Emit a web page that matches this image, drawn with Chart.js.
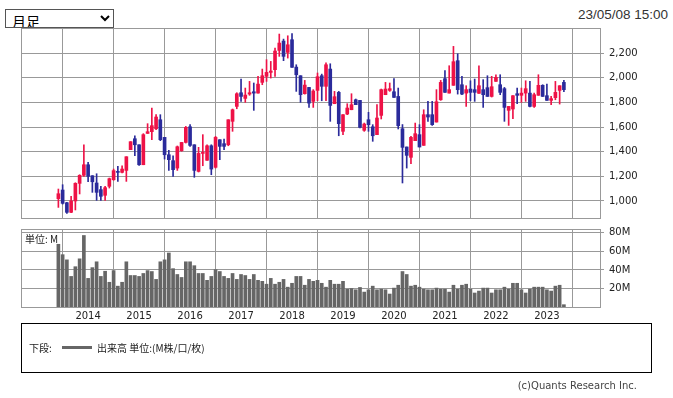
<!DOCTYPE html>
<html>
<head>
<meta charset="utf-8">
<script src="https://cdn.jsdelivr.net/npm/chart.js@4.4.1/dist/chart.umd.min.js"></script>
<style>
  body { margin: 0; width: 673px; height: 398px; background: #fff; position: relative; overflow: hidden; }
  canvas { position: absolute; left: 0; top: 0; }
  #span { position: absolute; left: 5px; top: 9px; width: 109px; height: 19px; font: 14px "Noto Sans CJK JP", sans-serif; border: 1px solid #555; padding: 0 0 0 2px; background: #fff; color: #000; }
  #stamp { position: absolute; right: 5px; top: 7px; font: 13.5px "Liberation Sans", Arial, sans-serif; color: #333; }
  #unit { position: absolute; left: 25px; top: 231px; font: 10px "Noto Sans CJK JP", sans-serif; color: #222; }
  #legend { position: absolute; left: 21px; top: 323px; width: 631px; height: 50px; border: 1px solid #000; box-sizing: border-box; font: 10px "Noto Sans CJK JP", sans-serif; color: #222; }
  #legend .t1 { position: absolute; left: 7px; top: 16px; }
  #legend .ln { position: absolute; left: 40px; top: 22px; width: 30px; height: 3px; background: #666; }
  #legend .t2 { position: absolute; left: 75px; top: 16px; }
  #copy { position: absolute; right: 36px; top: 380px; font: 10px "DejaVu Sans", sans-serif; color: #444; }
</style>
</head>
<body>
<select id="span"><option>月足</option><option>週足</option><option>日足</option></select>
<div id="stamp">23/05/08 15:00</div>
<canvas id="price" width="673" height="398"></canvas>
<canvas id="volume" width="673" height="398"></canvas>
<div id="unit">単位: M</div>
<div id="legend"><span class="t1">下段:</span><span class="ln"></span><span class="t2">出来高 単位:(M株/口/枚)</span></div>
<div id="copy">(c)Quants Research Inc.</div>
<script>
// 月足データ 2013/06 - 2023/05
const months = [
  '2013/06','2013/07','2013/08','2013/09','2013/10','2013/11','2013/12',
  '2014/01','2014/02','2014/03','2014/04','2014/05','2014/06','2014/07','2014/08','2014/09','2014/10','2014/11','2014/12',
  '2015/01','2015/02','2015/03','2015/04','2015/05','2015/06','2015/07','2015/08','2015/09','2015/10','2015/11','2015/12',
  '2016/01','2016/02','2016/03','2016/04','2016/05','2016/06','2016/07','2016/08','2016/09','2016/10','2016/11','2016/12',
  '2017/01','2017/02','2017/03','2017/04','2017/05','2017/06','2017/07','2017/08','2017/09','2017/10','2017/11','2017/12',
  '2018/01','2018/02','2018/03','2018/04','2018/05','2018/06','2018/07','2018/08','2018/09','2018/10','2018/11','2018/12',
  '2019/01','2019/02','2019/03','2019/04','2019/05','2019/06','2019/07','2019/08','2019/09','2019/10','2019/11','2019/12',
  '2020/01','2020/02','2020/03','2020/04','2020/05','2020/06','2020/07','2020/08','2020/09','2020/10','2020/11','2020/12',
  '2021/01','2021/02','2021/03','2021/04','2021/05','2021/06','2021/07','2021/08','2021/09','2021/10','2021/11','2021/12',
  '2022/01','2022/02','2022/03','2022/04','2022/05','2022/06','2022/07','2022/08','2022/09','2022/10','2022/11','2022/12',
  '2023/01','2023/02','2023/03','2023/04','2023/05'
];

const opens = [
  1019,1089,986,908,1000,1143,1208,
  1294,1205,1146,1092,1046,1119,1173,1240,1232,1248,1416,1505,
  1456,1294,1548,1562,1586,1659,1516,1375,1327,1267,1408,1475,
  1602,1456,1240,1386,1330,1448,1273,1497,1465,1456,1646,1767,
  1878,1832,1867,1886,1875,1962,2011,2043,2065,2221,2297,2205,
  2308,2086,2016,1870,1921,1808,1897,2016,1930,2070,1789,1881,
  1565,1705,1740,1821,1816,1573,1659,1602,1538,1694,1862,1897,
  1886,1848,1586,1438,1354,1489,1538,1451,1700,1700,1640,1821,
  1992,1875,1938,2138,1943,1875,1908,1903,1873,1903,1919,1848,
  1970,1943,1911,1735,1746,1870,1857,1875,1875,1767,1857,1938,
  1854,1816,1838,1897,1962
];
const highs = [
  1097,1132,990,1038,1148,1213,1456,
  1313,1205,1221,1119,1119,1186,1259,1281,1286,1359,1481,1529,
  1456,1546,1627,1754,1700,1700,1516,1411,1367,1446,1475,1605,
  1619,1456,1435,1538,1456,1456,1524,1497,1502,1659,1746,1878,
  1989,1916,1970,1957,2011,2070,2146,2132,2240,2354,2313,2340,
  2357,2105,2016,1978,1921,1903,2038,2029,2121,2113,1889,1889,
  1700,1789,1870,1827,1816,1632,1719,1619,1781,1908,1962,1957,
  1992,1916,1620,1438,1524,1632,1619,1740,1808,1808,1903,1978,
  2057,2097,2254,2194,2011,1935,1975,1989,2097,1984,2016,2011,
  2024,2024,1921,1767,1854,1916,1916,1975,1970,1875,2024,1943,
  1948,1848,1970,1935,1978
];
const lows = [
  948,975,900,905,927,1057,1200,
  1156,1070,1005,1005,1005,1105,1167,1159,1227,1159,1416,1367,
  1289,1294,1548,1497,1578,1489,1340,1248,1200,1248,1403,1470,
  1443,1192,1235,1286,1330,1213,1267,1335,1416,1448,1565,1748,
  1808,1800,1857,1735,1875,1943,1970,1997,2011,2173,2138,2159,
  2084,1889,1800,1867,1759,1759,1813,1813,1813,1646,1789,1529,
  1538,1700,1740,1781,1592,1565,1565,1484,1538,1665,1862,1889,
  1840,1584,1146,1267,1302,1489,1438,1451,1646,1613,1640,1816,
  1881,1875,1938,1867,1862,1767,1813,1808,1873,1759,1848,1843,
  1970,1862,1646,1613,1668,1789,1800,1808,1762,1759,1857,1848,
  1816,1781,1821,1786,1886
];
const closes = [
  1059,981,908,1000,1143,1208,1294,
  1200,1156,1070,1038,1108,1181,1246,1232,1259,1359,1481,1456,
  1294,1538,1562,1611,1681,1497,1375,1335,1254,1440,1475,1597,
  1451,1248,1386,1394,1448,1259,1516,1443,1443,1659,1740,1870,
  1848,1859,1878,1875,1948,2016,2043,2054,2216,2281,2173,2267,
  2084,2024,1862,1940,1794,1892,2008,1930,2105,1775,1846,1627,
  1700,1754,1781,1781,1597,1624,1619,1529,1673,1903,1908,1911,
  1840,1611,1435,1370,1516,1546,1438,1700,1681,1619,1805,1962,
  1881,1903,2130,1903,1867,1903,1881,1881,1935,1862,1848,1927,
  2003,1881,1759,1767,1854,1857,1875,1911,1767,1862,1938,1848,
  1816,1830,1881,1935,1903
];
// 出来高 (M)
const volumes = [
  67.7,56.5,50.9,33,43.5,52,77.2,
  30.9,42.5,48.8,33,38.6,26.7,39.3,22.5,26.7,48.8,34,34,
  33,36.2,39.3,38.3,29.8,48.8,50.9,58.3,41.4,35.1,31.9,48.8,
  48.8,44.6,36.2,36.2,28.8,33,40.4,38.3,33,30.9,36.2,29.8,
  35.1,34,29.8,35.1,28.8,27.7,24.6,30.9,24.6,26.7,29.8,21.4,
  25.6,33,33,23.5,29.8,27.7,28.8,25.6,21.4,28.8,24.6,24.6,
  27.7,19.3,20.0,18.6,21.1,16.1,18.6,22.5,18.6,19.3,18.6,14.0,
  20.4,23.5,38.3,35.1,22.5,23.5,21.4,19.3,18.6,18.6,20.4,19.3,
  19.3,16.1,23.5,19.3,23.5,24.6,19.3,15.1,17.2,20.4,20.4,15.1,
  18.6,18.6,21.4,19.3,25.6,25.6,18.6,15.1,19.3,21.4,21.4,21.4,
  18.6,17.2,22.5,23.5,2.5
];

const yearTicks = ['2014','2015','2016','2017','2018','2019','2020','2021','2022','2023'];
const priceTicks = [1000, 1200, 1400, 1600, 1800, 2000, 2200];
const volumeTicks = [20, 40, 60, 80];

const UP = '#ee1247';
const DOWN = '#2b2b9b';
const GRID = '#999';

const yearIdx = yearTicks.map(y => months.indexOf(y + '/01'));
const candleColor = ctx => closes[ctx.dataIndex] >= opens[ctx.dataIndex] ? UP : DOWN;

// 枠線
const frame = {
  id: 'frame',
  afterDraw(chart) {
    const a = chart.chartArea;
    const c = chart.ctx;
    c.save();
    c.strokeStyle = GRID;
    c.lineWidth = 1;
    c.strokeRect(Math.round(a.left) + 0.5, Math.round(a.top) + 0.5,
      Math.round(a.right - a.left), Math.round(a.bottom - a.top));
    c.restore();
  }
};

const xScale = (showLabels) => ({
  type: 'linear',
  min: -8.8,
  max: 127.5,
  offset: false,
  grid: { color: GRID, drawTicks: false },
  border: { display: false },
  ticks: {
    display: showLabels,
    autoSkip: false,
    maxRotation: 0,
    padding: 3,
    color: '#222',
    font: { family: 'DejaVu Sans', size: 10 },
    callback: v => months[v] ? months[v].slice(0, 4) : ''
  },
  afterBuildTicks: s => { s.ticks = yearIdx.map(v => ({ value: v })); },
  afterFit: s => { s.height = showLabels ? 20 : 0; }
});

new Chart(document.getElementById('price'), {
  type: 'bar',
  data: {
    datasets: [
      {
        label: 'wick',
        data: months.map((m, i) => ({ x: i, y: [lows[i], highs[i]] })),
        backgroundColor: candleColor,
        barThickness: 1,
        grouped: false,
        borderWidth: 0
      },
      {
        label: 'body',
        data: months.map((m, i) => ({ x: i, y: [opens[i], closes[i]] })),
        backgroundColor: candleColor,
        barThickness: 3,
        minBarLength: 1,
        grouped: false,
        borderWidth: 0
      }
    ]
  },
  options: {
    responsive: false,
    animation: false,
    devicePixelRatio: 1,
    layout: { padding: { left: 21, top: 28, right: 0, bottom: 180 } },
    plugins: { legend: { display: false }, tooltip: { enabled: false } },
    scales: {
      x: xScale(false),
      y: {
        position: 'right',
        min: 862,
        max: 2403,
        grid: { color: GRID, tickLength: 4 },
        border: { display: false },
        ticks: {
          padding: 5,
          color: '#222',
          font: { family: 'DejaVu Sans', size: 10 },
          callback: v => v.toLocaleString('en-US')
        },
        afterBuildTicks: s => { s.ticks = priceTicks.map(v => ({ value: v })); },
        afterFit: s => { s.width = 73; }
      }
    }
  },
  plugins: [frame]
});

new Chart(document.getElementById('volume'), {
  type: 'bar',
  data: {
    datasets: [{
      label: '出来高',
      data: months.map((m, i) => ({ x: i, y: volumes[i] })),
      backgroundColor: '#666',
      barThickness: 3,
      borderWidth: 0
    }]
  },
  options: {
    responsive: false,
    animation: false,
    devicePixelRatio: 1,
    layout: { padding: { left: 21, top: 229, right: 0, bottom: 71 } },
    plugins: { legend: { display: false }, tooltip: { enabled: false } },
    scales: {
      x: xScale(true),
      y: {
        position: 'right',
        min: 0,
        max: 84.2,
        grid: { color: GRID, tickLength: 4 },
        border: { display: false },
        ticks: {
          padding: 5,
          color: '#222',
          font: { family: 'DejaVu Sans', size: 10 },
          callback: v => v + 'M'
        },
        afterBuildTicks: s => { s.ticks = volumeTicks.map(v => ({ value: v })); },
        afterFit: s => { s.width = 73; }
      }
    }
  },
  plugins: [frame]
});
</script>
</body>
</html>
